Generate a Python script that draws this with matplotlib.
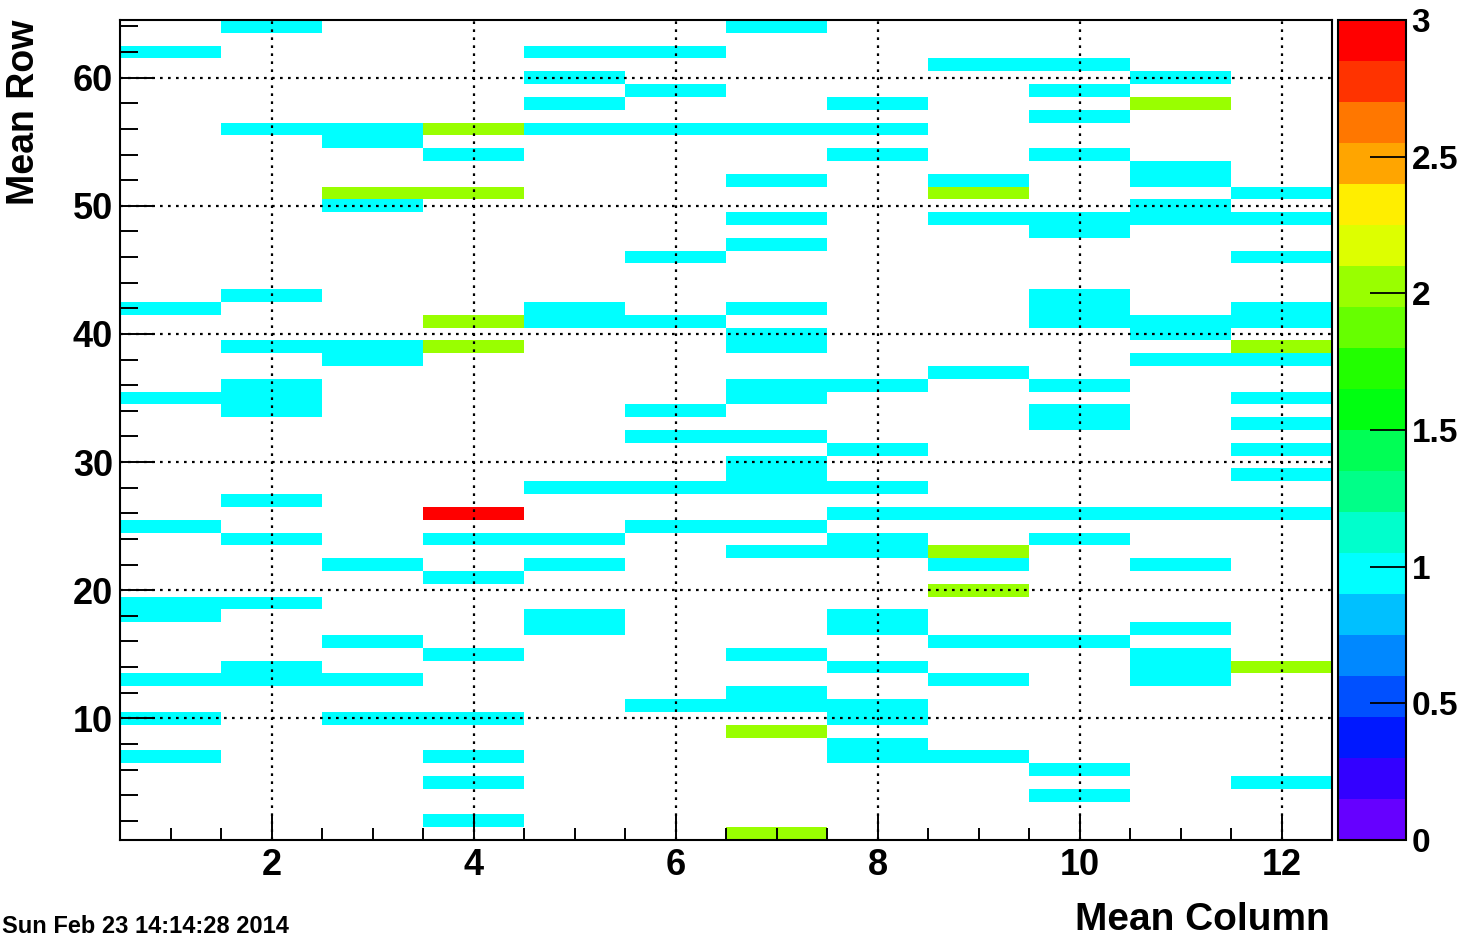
import numpy as np
import matplotlib
matplotlib.use("Agg")
import matplotlib.pyplot as plt
from matplotlib.colors import ListedColormap, Normalize

# rows hit in each column (a row listed twice has 2 entries)
c1 = [62, 42, 35, 25, 19, 18, 13, 10, 7]
c2 = [64, 56, 43, 39, 36, 35, 34, 27, 24, 19, 14, 13]
c3 = [56, 55, 51, 51, 50, 39, 38, 22, 16, 13, 10]
c4 = [56, 56, 54, 51, 51, 41, 41, 39, 39, 26, 26, 26, 24, 21, 15, 10, 7, 5, 2]
c5 = [62, 60, 58, 56, 42, 41, 28, 24, 22, 18, 17]
c6 = [62, 59, 56, 46, 41, 34, 32, 28, 25, 11]
c7 = [64, 56, 52, 49, 47, 42, 40, 39, 36, 35, 32, 30, 29, 28, 25, 23, 15, 12, 11, 9, 9, 1, 1]
c8 = [58, 56, 54, 36, 31, 28, 26, 24, 23, 18, 17, 14, 11, 10, 8, 7]
c9 = [61, 52, 51, 51, 49, 37, 26, 23, 23, 22, 20, 20, 16, 13, 7]
c10 = [61, 59, 57, 54, 49, 48, 43, 42, 41, 36, 34, 33, 26, 24, 16, 6, 4]
c11 = [60, 58, 58, 53, 52, 50, 49, 41, 40, 38, 26, 22, 17, 15, 14, 13]
c12 = [51, 49, 46, 42, 41, 39, 39, 38, 35, 33, 31, 29, 26, 14, 14, 5]

# ROOT-like palette, bottom to top
palette = ["#6600FF", "#3300FF", "#0018FF", "#0050FF", "#0088FF", "#00C0FF",
           "#00FFFF", "#00FFCC", "#00FF88", "#00FF55", "#00FF11", "#22FF00",
           "#66FF00", "#99FF00", "#DDFF00", "#FFEE00", "#FFA500", "#FF7700",
           "#FF3300", "#FF0000"]
cbar_ticks = [0, 0.5, 1, 1.5, 2, 2.5, 3]
cbar_labels = ["0", "0.5", "1", "1.5", "2", "2.5", "3"]

plt.rcParams['font.family'] = ['Liberation Sans', 'DejaVu Sans']
plt.rcParams['font.weight'] = 'bold'

cols = [c1, c2, c3, c4, c5, c6, c7, c8, c9, c10, c11, c12]
mean_col = np.concatenate([[i + 1] * len(c) for i, c in enumerate(cols)])
mean_row = np.concatenate(cols)

W, H = 1471, 943
fig = plt.figure(figsize=(W / 100, H / 100), dpi=100)
ax = fig.add_axes([120 / W, 103 / H, 1212 / W, 820 / H])

cmap = ListedColormap(palette)
norm = Normalize(vmin=0, vmax=3)
counts, xe, ye, mesh = ax.hist2d(mean_col, mean_row,
                                 bins=[np.arange(0.5, 13), np.arange(0.5, 65)],
                                 cmap=cmap, norm=norm, cmin=0.5)
mesh.set_zorder(1)

ax.set_xlim(0.5, 12.5)
ax.set_ylim(0.5, 64.5)
ax.set_xticks(np.arange(2, 13, 2))
ax.set_xticks(np.arange(1, 12.6, 0.5), minor=True)
ax.set_yticks(np.arange(10, 61, 10))
ax.set_yticks(np.arange(2, 65, 2), minor=True)

ax.tick_params(axis='both', which='both', direction='in', top=False, right=False,
               width=1.4, labelsize=26)
ax.tick_params(axis='x', which='major', length=18, pad=6)
ax.tick_params(axis='x', which='minor', length=8.6)
ax.tick_params(axis='y', which='major', length=25, pad=5)
ax.tick_params(axis='y', which='minor', length=12.7)
for lab in ax.get_xticklabels() + ax.get_yticklabels():
    lab.set_fontweight('bold')

ax.set_axisbelow(False)
ax.grid(True, which='major', color='black', linewidth=1.6,
        linestyle=(0, (1.2, 2.4)), zorder=3)
for sp in ax.spines.values():
    sp.set_linewidth(1.5)
    sp.set_zorder(4)

# colour scale
cax = fig.add_axes([1338 / W, 103 / H, 68 / W, 820 / H])
cb = fig.colorbar(mesh, cax=cax, ticks=cbar_ticks)
cb.ax.set_yticklabels(cbar_labels)
cb.outline.set_linewidth(1.5)
cb.ax.tick_params(direction='in', length=26, width=1.3, labelsize=24, pad=4)
for lab in cb.ax.get_yticklabels():
    lab.set_fontweight('bold')

fig.text(42 / W, 1 - 20 / H, "Mean Row", rotation=90, ha='right', va='top',
         fontsize=27, fontweight='bold')
fig.text(1330 / W, 13 / H, "Mean Column", ha='right', va='baseline',
         fontsize=28, fontweight='bold')
fig.text(2 / W, 10 / H, "Sun Feb 23 14:14:28 2014", ha='left', va='baseline',
         fontsize=17, fontweight='bold')

fig.savefig("out.png", dpi=100)
